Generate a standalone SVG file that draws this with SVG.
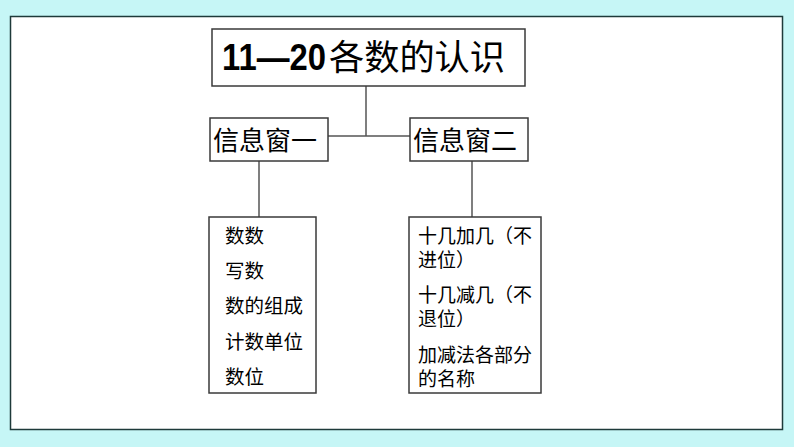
<svg xmlns="http://www.w3.org/2000/svg" width="794" height="447" viewBox="0 0 794 447">
<style>
.box{fill:#ffffff;stroke:#3a3a3a;stroke-width:1.5}
.con{fill:none;stroke:#555555;stroke-width:1.5}
.cjk{font-family:"Noto Sans CJK SC","Noto Sans CJK JP",sans-serif;fill:#000000}
.lbl{font-size:26px}
.item{font-size:19.5px}
.wrap{font-size:19px}
</style>
<rect x="0" y="0" width="794" height="447" fill="#c6f6f6"/>
<rect x="10.5" y="16.5" width="772" height="413" fill="#ffffff" stroke="#1e3a3a" stroke-width="1.5"/>
<g id="connectors">
<line class="con" x1="366" y1="86" x2="366" y2="136"/>
<line class="con" x1="328" y1="136" x2="410" y2="136"/>
<line class="con" x1="259" y1="161" x2="259" y2="217"/>
<line class="con" x1="472" y1="161" x2="472" y2="217"/>
</g>
<g id="title">
<rect class="box" x="212" y="29" width="313" height="57"/>
<text y="70" fill="#000000"><tspan x="222" font-family="Liberation Sans,Arial,sans-serif" font-weight="bold" font-size="37" textLength="104" lengthAdjust="spacingAndGlyphs">11—20</tspan><tspan x="329" class="cjk" font-size="35" textLength="176" lengthAdjust="spacingAndGlyphs">各数的认识</tspan></text>
</g>
<g id="window1">
<rect class="box" x="210" y="118" width="118" height="43"/>
<text class="cjk lbl" x="213" y="150">信息窗一</text>
</g>
<g id="window2">
<rect class="box" x="410" y="118" width="118" height="43"/>
<text class="cjk lbl" x="413" y="150">信息窗二</text>
</g>
<g id="list1">
<rect class="box" x="209" y="217" width="107" height="176"/>
<text class="cjk item" x="225" y="243">数数</text>
<text class="cjk item" x="225" y="278">写数</text>
<text class="cjk item" x="225" y="313">数的组成</text>
<text class="cjk item" x="225" y="349">计数单位</text>
<text class="cjk item" x="225" y="384">数位</text>
</g>
<g id="list2">
<rect class="box" x="409" y="217" width="132" height="176"/>
<text class="cjk wrap"><tspan x="418" y="242.5">十几加几（不</tspan><tspan x="418" y="266.5">进位）</tspan></text>
<text class="cjk wrap"><tspan x="418" y="302">十几减几（不</tspan><tspan x="418" y="326">退位）</tspan></text>
<text class="cjk wrap"><tspan x="418" y="362">加减法各部分</tspan><tspan x="418" y="386">的名称</tspan></text>
</g>
</svg>
